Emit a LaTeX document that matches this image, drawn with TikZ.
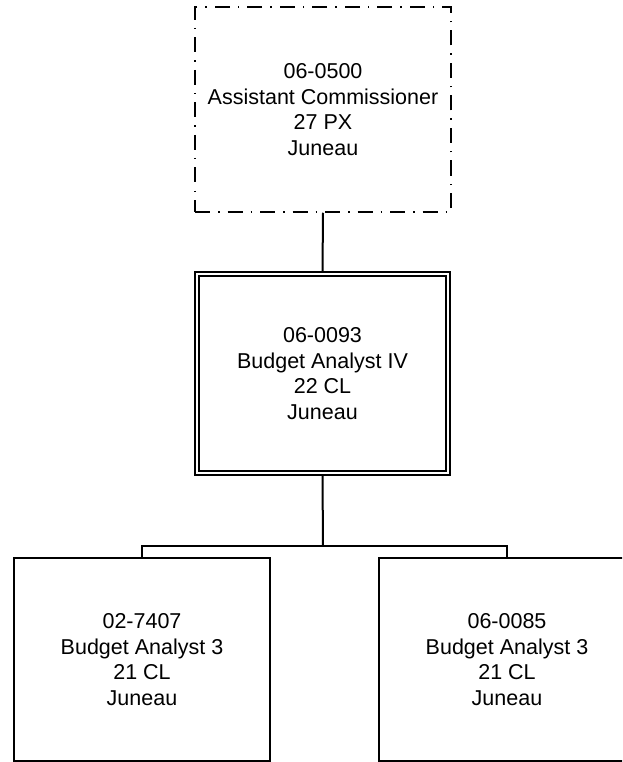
\documentclass[tikz,border=0pt]{standalone}
\usepackage{fontspec}
\setmainfont{Liberation Sans}
\begin{document}
\begin{tikzpicture}[x=1pt,y=-1pt,
  box/.style={draw=black,line width=1.8pt,rectangle,inner sep=0pt,
    minimum width=256pt,minimum height=203pt,align=center,
    font=\fontsize{21.5}{25.8}\selectfont},
  dashbox/.style={box,line width=1.5pt,dash pattern=on 15pt off 8pt on 1.5pt off 8pt},
  dblouter/.style={box,line width=1.5pt},
  conn/.style={draw=black,line width=2pt}]
\clip (0,0) rectangle (622,762);
\fill[white] (0,0) rectangle (622,762);
\node[dashbox,minimum height=205pt] (top) at (323,109.5) {06-0500\\Assistant Commissioner\\27 PX\\Juneau};
\node[dblouter,minimum width=255pt] (mid) at (322.5,373.5) {06-0093\\Budget Analyst IV\\22 CL\\Juneau};
\draw[line width=2pt] ([shift={(5pt,-5pt)}]mid.north west) rectangle ([shift={(-5pt,5pt)}]mid.south east);
\node[box] (lb) at (142,659.5) {02-7407\\Budget Analyst 3\\21 CL\\Juneau};
\node[box] (rb) at (507,659.5) {06-0085\\Budget Analyst 3\\21 CL\\Juneau};
\coordinate (bar) at (323,546);
\draw[conn] (top.south) -- (mid.north);
\draw[conn] (mid.south) -- (bar);
\draw[conn] (lb.north) |- (bar) -| (rb.north);
\end{tikzpicture}
\end{document}
